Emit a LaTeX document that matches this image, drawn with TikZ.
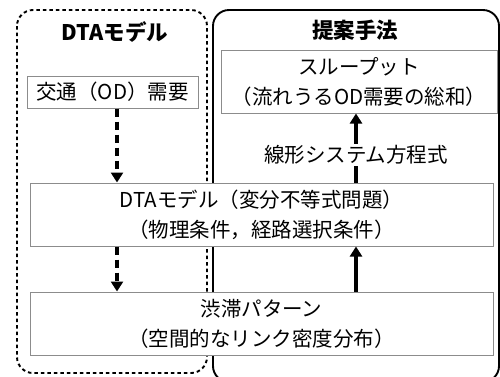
\documentclass[tikz,border=0pt]{standalone}
\usepackage{fontspec}
\setmainfont{Noto Sans CJK JP}
\usetikzlibrary{arrows.meta}
\begin{document}
\begin{tikzpicture}[x=1pt,y=-1pt,
 box/.style={draw=black!45, line width=1pt, fill=white, inner sep=0pt, align=center,
   font=\fontsize{20.5}{30}\selectfont},
 lbl/.style={fill=white, inner sep=1.5pt, font=\fontsize{20.5}{24}\selectfont},
 ttl/.style={inner sep=0pt, font=\fontsize{21.5}{24}\selectfont\bfseries},
 darr/.style={-{Triangle[length=10pt,width=12pt]}, line width=3.2pt, dash pattern=on 8pt off 5pt},
 sarr/.style={-{Triangle[length=10pt,width=12pt]}, line width=3.4pt}]
\useasboundingbox (0,0) rectangle (500,376);
\draw[line width=1.9pt, dash pattern=on 3.5pt off 3pt, rounded corners=16pt] (17,10) rectangle (207,373);
\draw[line width=1.9pt, rounded corners=16pt] (213,10) rectangle (499,382);
\node[ttl] (t1) at (115,32) {DTAモデル};
\node[ttl] (t2) at (355,30) {提案手法};
\node[box, minimum width=171pt, minimum height=32pt] (od) at (112.5,92) {交通（OD）需要};
\node[box, minimum width=276pt, minimum height=63pt] (thr) at (359,81.5) {スループット\\（流れうるOD需要の総和）};
\node[box, minimum width=463pt, minimum height=63pt] (dta) at (261.5,214.5) {DTAモデル（変分不等式問題）\\（物理条件，経路選択条件）};
\node[box, minimum width=463pt, minimum height=63pt] (cong) at (261.5,323.5) {渋滞パターン\\（空間的なリンク密度分布）};
\coordinate (lx) at (117,0);
\coordinate (rx) at (356,0);
\draw[darr] (od.south -| lx) -- (dta.north -| lx);
\draw[darr] (dta.south -| lx) -- (cong.north -| lx);
\draw[sarr] (cong.north -| rx) -- (dta.south -| rx);
\draw[sarr] (dta.north -| rx) -- (thr.south -| rx) node[lbl, pos=0.4] (eq) {線形システム方程式};
\end{tikzpicture}
\end{document}
